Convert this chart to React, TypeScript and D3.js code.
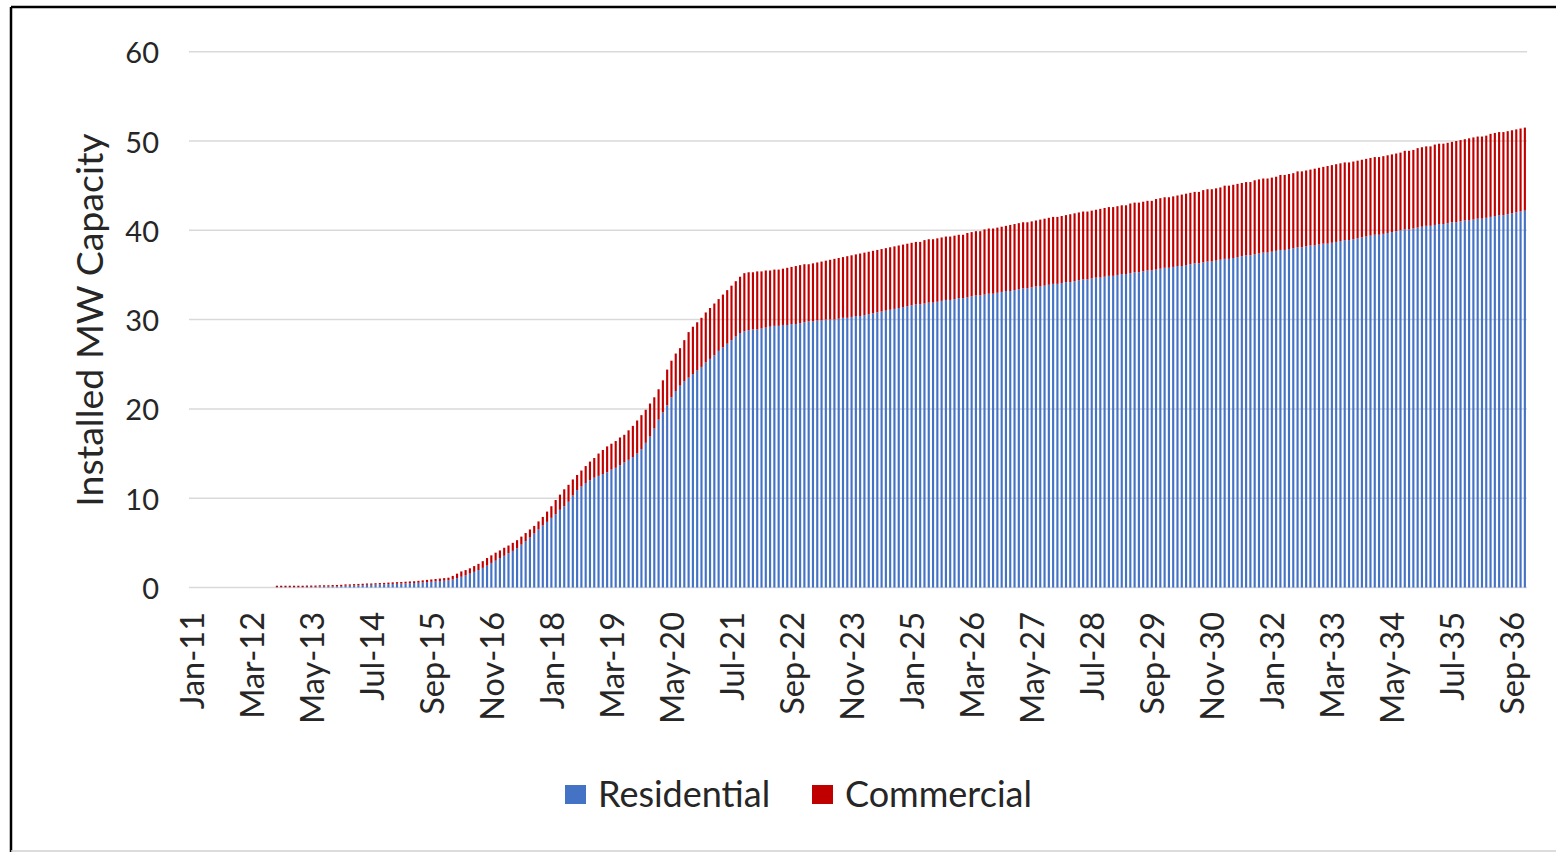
import React from 'react';
import * as d3 from 'd3';

const monthNames = ['Jan', 'Feb', 'Mar', 'Apr', 'May', 'Jun', 'Jul', 'Aug', 'Sep', 'Oct', 'Nov', 'Dec'];
const years = d3.range(2011, 2037);
const categories: string[] = years.flatMap((y) => monthNames.map((m) => `${m}-${String(y).slice(2)}`));

const tickLabels = [
  'Jan-11', 'Mar-12', 'May-13', 'Jul-14', 'Sep-15', 'Nov-16', 'Jan-18', 'Mar-19', 'May-20', 'Jul-21',
  'Sep-22', 'Nov-23', 'Jan-25', 'Mar-26', 'May-27', 'Jul-28', 'Sep-29', 'Nov-30', 'Jan-32', 'Mar-33',
  'May-34', 'Jul-35', 'Sep-36',
];
const yTicks = [0, 10, 20, 30, 40, 50, 60];

// monthly installed MW, Jan-11 .. Dec-36 (one row per year)
const residential = [
  0, 0, 0, 0, 0, 0, 0, 0, 0, 0, 0, 0,
  0, 0, 0, 0, 0, 0, 0, 0, 0.05, 0.05, 0.05, 0.05,
  0.05, 0.05, 0.05, 0.07, 0.07, 0.07, 0.1, 0.1, 0.1, 0.12, 0.12, 0.15,
  0.2, 0.2, 0.22, 0.25, 0.27, 0.3, 0.3, 0.32, 0.34, 0.36, 0.38, 0.4,
  0.42, 0.44, 0.46, 0.48, 0.5, 0.53, 0.56, 0.6, 0.64, 0.68, 0.72, 0.76,
  0.8, 0.9, 1.05, 1.2, 1.35, 1.55, 1.75, 1.95, 2.2, 2.45, 2.75, 3.0,
  3.3, 3.55, 3.85, 4.1, 4.4, 4.8, 5.2, 5.6, 6.05, 6.5, 6.95, 7.35,
  7.8, 8.2, 8.7, 9.1, 9.6, 10.3, 10.9, 11.3, 11.7, 12.0, 12.3, 12.5,
  12.7, 12.9, 13.2, 13.4, 13.7, 14.0, 14.3, 14.6, 15.0, 15.5, 16.2, 16.9,
  17.8, 18.8, 19.6, 20.4, 21.3, 22.0, 22.6, 23.1, 23.5, 23.9, 24.3, 24.7,
  25.2, 25.6, 26.0, 26.5, 26.9, 27.3, 27.7, 28.1, 28.5, 28.7, 28.8, 28.9,
  28.9, 29.0, 29.1, 29.2, 29.3, 29.3, 29.4, 29.4, 29.5, 29.5, 29.6, 29.7,
  29.8, 29.8, 29.9, 29.9, 30.0, 30.0, 30.0, 30.1, 30.2, 30.2, 30.3, 30.4,
  30.4, 30.5, 30.6, 30.7, 30.8, 30.9, 31.0, 31.1, 31.2, 31.3, 31.4, 31.5,
  31.6, 31.7, 31.7, 31.8, 31.9, 31.9, 32.0, 32.1, 32.2, 32.2, 32.3, 32.4,
  32.4, 32.5, 32.6, 32.7, 32.7, 32.8, 32.9, 32.9, 33.0, 33.1, 33.2, 33.2,
  33.3, 33.4, 33.5, 33.5, 33.6, 33.7, 33.7, 33.8, 33.9, 34.0, 34.0, 34.1,
  34.2, 34.2, 34.3, 34.4, 34.5, 34.5, 34.6, 34.7, 34.7, 34.8, 34.9, 34.9,
  35.0, 35.1, 35.1, 35.2, 35.3, 35.3, 35.4, 35.5, 35.5, 35.6, 35.7, 35.8,
  35.8, 35.9, 36.0, 36.0, 36.1, 36.2, 36.3, 36.3, 36.4, 36.5, 36.5, 36.6,
  36.7, 36.8, 36.8, 36.9, 37.0, 37.1, 37.2, 37.2, 37.3, 37.4, 37.5, 37.5,
  37.6, 37.7, 37.8, 37.8, 37.9, 38.0, 38.1, 38.1, 38.2, 38.3, 38.3, 38.4,
  38.5, 38.5, 38.6, 38.7, 38.8, 38.9, 38.9, 39.0, 39.1, 39.2, 39.3, 39.4,
  39.5, 39.5, 39.6, 39.7, 39.8, 39.9, 40.0, 40.1, 40.1, 40.2, 40.3, 40.4,
  40.5, 40.5, 40.6, 40.7, 40.7, 40.8, 40.9, 40.9, 41.0, 41.1, 41.1, 41.2,
  41.3, 41.3, 41.4, 41.5, 41.6, 41.7, 41.7, 41.8, 41.9, 42.0, 42.1, 42.2,
];

const commercial = [
  0, 0, 0, 0, 0, 0, 0, 0, 0, 0, 0, 0,
  0, 0, 0, 0, 0, 0, 0, 0, 0.15, 0.15, 0.15, 0.15,
  0.15, 0.15, 0.15, 0.15, 0.15, 0.15, 0.15, 0.15, 0.15, 0.16, 0.16, 0.15,
  0.15, 0.15, 0.16, 0.15, 0.15, 0.15, 0.15, 0.16, 0.16, 0.16, 0.17, 0.18,
  0.18, 0.18, 0.19, 0.2, 0.2, 0.22, 0.24, 0.25, 0.26, 0.27, 0.28, 0.29,
  0.3, 0.4, 0.5, 0.6, 0.6, 0.6, 0.65, 0.7, 0.75, 0.85, 0.85, 0.9,
  0.85, 0.9, 0.85, 0.9, 0.9, 0.9, 0.9, 0.9, 0.85, 0.9, 0.95, 1.15,
  1.3, 1.6, 1.7, 1.9, 1.9, 1.8, 1.7, 1.8, 1.9, 2.1, 2.2, 2.5,
  2.7, 2.9, 2.9, 3.0, 3.1, 3.1, 3.3, 3.5, 3.7, 3.8, 3.7, 3.7,
  3.5, 3.4, 3.6, 4.0, 4.1, 4.2, 4.2, 4.6, 5.1, 5.3, 5.4, 5.5,
  5.6, 5.7, 5.8, 5.8, 5.9, 6.0, 6.1, 6.2, 6.3, 6.5, 6.5, 6.4,
  6.5, 6.4, 6.4, 6.3, 6.3, 6.3, 6.3, 6.4, 6.4, 6.5, 6.5, 6.5,
  6.4, 6.5, 6.5, 6.6, 6.6, 6.7, 6.8, 6.8, 6.8, 6.9, 6.9, 6.9,
  7.0, 7.0, 7.0, 7.0, 7.0, 7.0, 7.0, 7.0, 7.0, 7.0, 7.0, 7.0,
  7.0, 7.0, 7.0, 7.1, 7.1, 7.1, 7.1, 7.1, 7.1, 7.1, 7.1, 7.1,
  7.1, 7.2, 7.2, 7.2, 7.2, 7.3, 7.3, 7.3, 7.3, 7.3, 7.3, 7.4,
  7.4, 7.4, 7.4, 7.4, 7.4, 7.4, 7.5, 7.5, 7.5, 7.5, 7.5, 7.5,
  7.5, 7.6, 7.6, 7.6, 7.6, 7.6, 7.6, 7.6, 7.7, 7.7, 7.7, 7.7,
  7.7, 7.7, 7.7, 7.8, 7.8, 7.8, 7.8, 7.8, 7.8, 7.9, 7.9, 7.9,
  7.9, 7.9, 7.9, 8.0, 8.0, 8.0, 8.0, 8.0, 8.1, 8.1, 8.1, 8.1,
  8.1, 8.2, 8.2, 8.2, 8.2, 8.2, 8.2, 8.2, 8.3, 8.3, 8.3, 8.3,
  8.3, 8.3, 8.4, 8.4, 8.4, 8.4, 8.5, 8.5, 8.5, 8.5, 8.6, 8.6,
  8.6, 8.7, 8.7, 8.7, 8.7, 8.7, 8.7, 8.7, 8.7, 8.7, 8.7, 8.7,
  8.7, 8.7, 8.7, 8.7, 8.7, 8.7, 8.7, 8.8, 8.8, 8.8, 8.9, 8.9,
  8.9, 8.9, 9.0, 9.0, 9.0, 9.0, 9.0, 9.1, 9.1, 9.1, 9.2, 9.2,
  9.2, 9.2, 9.2, 9.3, 9.3, 9.3, 9.3, 9.3, 9.3, 9.3, 9.3, 9.3,
];

const seriesNames = ['Residential', 'Commercial'];
const seriesColors = ['#4472C4', '#C00000'];

const W = 1556;
const H = 852;
const FONT = 'Lato, "Open Sans", sans-serif';

export default function App() {
  const rows = categories.map((c, i) => ({ cat: c, Residential: residential[i], Commercial: commercial[i] }));
  const stacked = d3.stack<any>().keys(seriesNames)(rows);

  const x = d3.scaleBand<string>().domain(categories).range([189, 1527]).paddingInner(0.5).paddingOuter(0.25);
  const y = d3.scaleLinear().domain([0, 60]).range([587.5, 51.7]);
  const bw = x.bandwidth();

  return (
    <svg
      width={W}
      height={H}
      style={{ position: 'absolute', left: 0, top: 0, background: '#fff' }}
      fontFamily={FONT}
    >
      <rect x={0} y={0} width={W} height={H} fill="#fff" />
      {/* frame */}
      <line x1={11} y1={7} x2={W} y2={7} stroke="#000" strokeWidth={2.5} />
      <line x1={11} y1={7} x2={11} y2={H} stroke="#000" strokeWidth={2.5} />
      <line x1={11} y1={851} x2={W} y2={851} stroke="#d0d0d0" strokeWidth={1.5} />

      {/* gridlines */}
      {yTicks.map((t) => (
        <line key={t} x1={189} x2={1527} y1={y(t)} y2={y(t)} stroke="#d9d9d9" strokeWidth={1.5} />
      ))}

      {/* bars */}
      {stacked.map((layer, li) => (
        <g key={layer.key} fill={seriesColors[li]}>
          {layer.map((d: any, i: number) => {
            const h = y(d[0]) - y(d[1]);
            if (h <= 0) return null;
            return <rect key={i} x={x(d.data.cat)} width={bw} y={y(d[1])} height={h} />;
          })}
        </g>
      ))}

      {/* y ticks */}
      {yTicks.map((t) => (
        <text key={t} x={159} y={y(t)} textAnchor="end" dominantBaseline="central" fontSize={29} fill="#262626">
          {t}
        </text>
      ))}

      {/* x ticks */}
      {tickLabels.map((lab) => {
        const cx = (x(lab) as number) + bw / 2;
        return (
          <text
            key={lab}
            transform={`translate(${cx},612) rotate(-90)`}
            textAnchor="end"
            dominantBaseline="central"
            fontSize={32.5}
            fill="#262626"
          >
            {lab}
          </text>
        );
      })}

      {/* y title */}
      <text
        transform="translate(88,320) rotate(-90)"
        textAnchor="middle"
        dominantBaseline="central"
        fontSize={37.5}
        fill="#262626"
      >
        Installed MW Capacity
      </text>

      {/* legend */}
      {seriesNames.map((n, i) => {
        const lx = [565, 812][i];
        return (
          <g key={n}>
            <rect x={lx} y={785} width={21} height={19} fill={seriesColors[i]} />
            <text x={lx + 33} y={793} dominantBaseline="central" fontSize={36} fill="#262626">
              {n}
            </text>
          </g>
        );
      })}
    </svg>
  );
}
